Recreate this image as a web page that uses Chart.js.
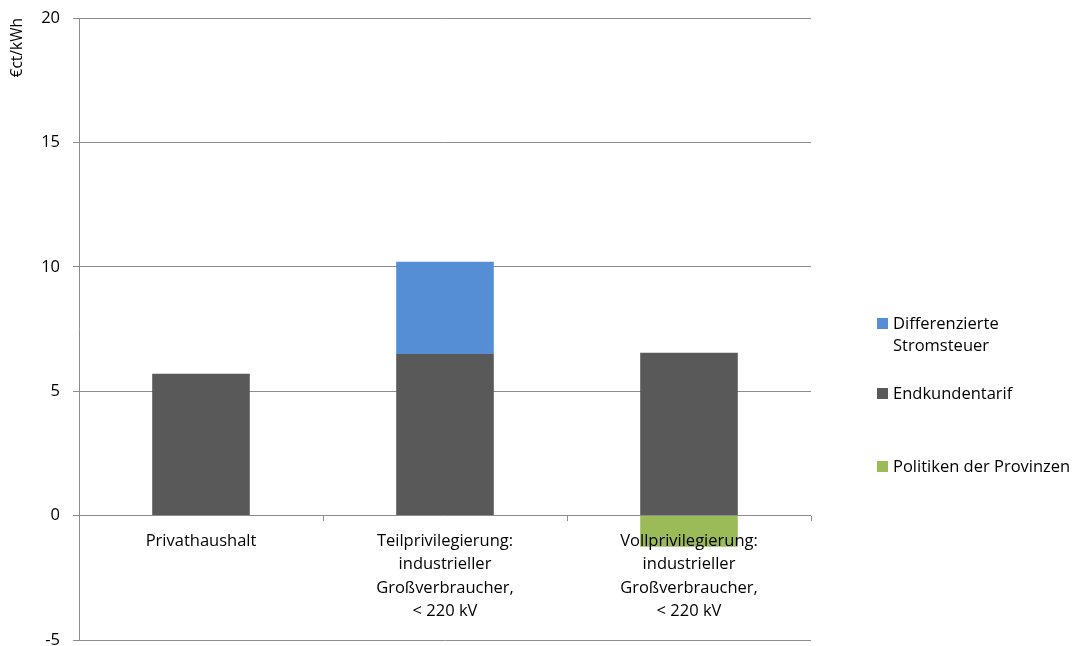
<!DOCTYPE html>
<html>
<head>
<meta charset="utf-8">
<script src="https://cdn.jsdelivr.net/npm/chart.js@4"></script>
<style>
    body { margin: 0; background: #ffffff; }
    #wrap { position: relative; width: 1076px; height: 646px; }
    #legend { position: absolute; left: 877px; top: 312px; font-family: "Open Sans", sans-serif; font-size: 16.5px; color: #000; }
    .item { position: absolute; left: 0; white-space: nowrap; line-height: 22px; }
    .box { position: absolute; left: 0; top: 6px; width: 11px; height: 11px; }
    .txt { position: absolute; left: 16px; top: 0; }
</style>
</head>
<body>
<div id="wrap">
    <canvas id="chart" width="1076" height="646"></canvas>
    <div id="legend"></div>
</div>
<script>
//Data
const categories = [
    'Privathaushalt',
    ['Teilprivilegierung:', 'industrieller', 'Großverbraucher,', '< 220 kV'],
    ['Vollprivilegierung:', 'industrieller', 'Großverbraucher,', '< 220 kV']
];
const stromsteuer = [null, 3.7, null];
const endkundentarif = [5.7, 6.5, 6.55];
const provinzen = [null, null, -1.25];
const yTicks = [-5, 0, 5, 10, 15, 20];

const seriesNames = [['Differenzierte', 'Stromsteuer'], ['Endkundentarif'], ['Politiken der Provinzen']];
const seriesColors = ['#558ed5', '#595959', '#9bbb59'];

const font = { family: '"Open Sans", sans-serif', size: 16.5 };
const gridColor = '#8c8c8c';

//Chart
const ctx = document.getElementById('chart').getContext('2d');
new Chart(ctx, {
    type: 'bar',
    data: {
        labels: categories,
        datasets: [
            { label: 'Endkundentarif', data: endkundentarif, backgroundColor: seriesColors[1] },
            { label: 'Differenzierte Stromsteuer', data: stromsteuer, backgroundColor: seriesColors[0] },
            { label: 'Politiken der Provinzen', data: provinzen, backgroundColor: seriesColors[2] }
        ]
    },
    options: {
        responsive: false,
        animation: false,
        categoryPercentage: 1,
        barPercentage: 0.4,
        layout: { padding: { left: 0, top: 18, right: 265, bottom: 6 } },
        plugins: {
            legend: { display: false },
            tooltip: { enabled: false }
        },
        scales: {
            x: {
                stacked: true,
                position: { y: 0 },
                border: { display: false },
                grid: { drawOnChartArea: false, drawTicks: true, tickLength: 5, color: gridColor, offset: true },
                ticks: { z: 1, color: '#000', font: { ...font, lineHeight: 1.42 }, padding: 9, maxRotation: 0, autoSkip: false }
            },
            y: {
                stacked: true,
                min: yTicks[0],
                max: yTicks[yTicks.length - 1],
                afterBuildTicks: s => { s.ticks = yTicks.map(v => ({ value: v })); },
                afterFit: s => { s.width = 79; s.paddingTop = 0; s.paddingBottom = 0; },
                border: { display: true, color: gridColor },
                grid: { color: gridColor, tickLength: 6 },
                ticks: { color: '#000', font: font, padding: 13 },
                title: {
                    display: true,
                    text: '€ct/kWh',
                    align: 'end',
                    color: '#000',
                    font: { ...font, size: 15.5 },
                    padding: { top: 8, bottom: 0 }
                }
            }
        }
    }
});

//Legend
const legend = document.getElementById('legend');
const legendTops = [0, 70, 143];
seriesNames.forEach((name, i) => {
    const item = document.createElement('div');
    item.className = 'item';
    item.style.top = legendTops[i] + 'px';
    const box = document.createElement('div');
    box.className = 'box';
    box.style.background = seriesColors[i];
    const txt = document.createElement('div');
    txt.className = 'txt';
    txt.innerHTML = name.join('<br>');
    item.appendChild(box);
    item.appendChild(txt);
    legend.appendChild(item);
});
</script>
</body>
</html>
